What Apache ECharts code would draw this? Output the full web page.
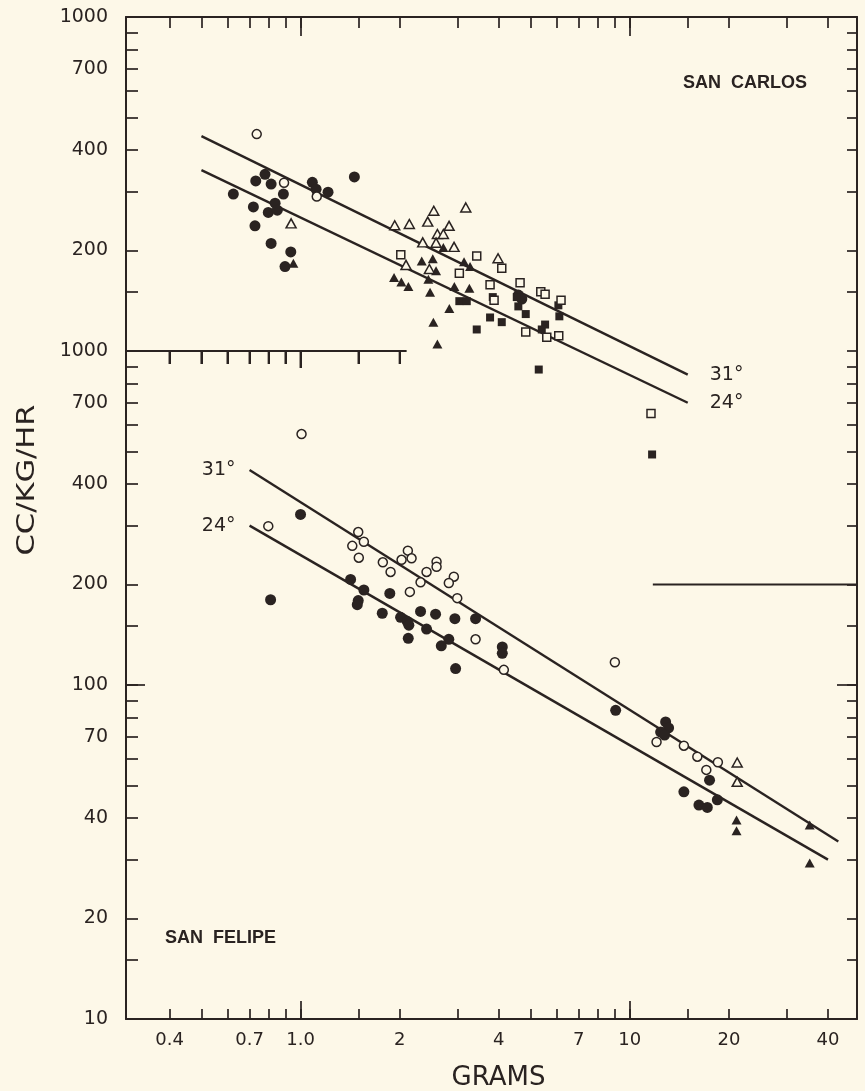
<!DOCTYPE html>
<html><head><meta charset="utf-8">
<script src="https://cdn.jsdelivr.net/npm/echarts@6/dist/echarts.min.js"></script>
<style>html,body{margin:0;padding:0;background:#fdf8e8}#c{width:865px;height:1091px}</style>
</head><body><div id="c"></div>
<script>
// ---- axis ticks / labels ----
var ticksX = [0.4,0.5,0.6,0.7,0.8,0.9,1,1.5,2,3,4,5,6,7,8,9,10,15,20,30,40];
var tallTicksX = [1,10];
var labelsX = [0.4,0.7,1,2,4,7,10,20,40];
var midTicksX = [0.4,0.5,0.6,0.7,0.8,0.9,1.5,2];
var midTallTicksX = [1];
var ticksYLower = [15,20,30,40,50,60,70,80,90,100,150,200,300,400,500,600,700,800,900,1000];
var labelsYLower = [10,20,40,70,100,200,400,700,1000];
var ticksYUpper = [150,200,300,400,500,600,700,800,900];
var labelsYUpper = [200,400,700,1000];
var tallTicksY = [100];

// ---- SAN CARLOS (upper panel) [grams, cc/kg/hr] ----
var scCircleOpen = [[0.736,446],[0.891,319],[1.12,290]];
var scCircleFilled = [[0.625,295],[0.731,323],[0.78,338],[0.814,316],[0.837,277],[0.887,295],[0.719,270],[0.798,260],[0.85,264],[0.727,237],[0.814,210],[0.934,198],[0.897,179],[1.086,320],[1.115,305],[1.212,299],[1.457,332],[4.59,147],[4.70,143]];
var scTriOpen = [[0.936,241],[1.932,238],[2.14,240],[2.434,244],[2.539,263],[2.826,237],[3.176,269],[2.604,224],[2.715,224],[2.35,211.5],[2.58,211],[2.926,205],[3.98,189.5],[2.091,181],[2.462,176]];
var scTriFilled = [[0.951,183],[1.923,166],[2.024,161],[2.126,156],[2.334,186],[2.521,189],[2.58,174],[2.445,164],[2.474,150],[2.715,204],[2.932,156],[3.257,154],[2.831,134],[2.532,122],[2.604,105],[3.138,185],[3.273,179]];
var scSqOpen = [[2.016,194],[3.429,192.5],[4.085,177],[3.036,171],[3.764,158],[4.643,160],[5.367,150.5],[5.531,148],[6.183,142],[4.831,114],[5.596,110],[6.085,111],[3.871,142],[11.6,65]];
var scSqFilled = [[3.036,141],[3.198,141],[3.836,145],[3.764,126],[4.085,122],[3.429,116],[4.537,145],[4.587,136],[4.831,129],[5.531,120],[5.404,116],[6.111,127],[6.069,137],[5.291,88],[11.69,49]];
var scLine31 = [[0.5,440],[15,85]];
var scLine24 = [[0.5,348],[15,70]];

// ---- SAN FELIPE (lower panel) ----
var sfCircleOpen = [[1.007,564],[0.798,299],[1.497,287],[1.557,268.5],[1.436,261],[1.503,240.5],[1.778,233],[1.877,218],[2.027,237],[2.118,252.5],[2.174,239.5],[2.589,234],[2.589,226],[2.414,218],[2.315,203],[2.922,211],[2.821,202],[2.992,182],[2.148,190],[3.401,137],[4.145,111],[9.01,117],[12.06,67.5],[14.6,65.8],[16.04,61],[18.52,58.7],[17.08,55.7]];
var sfCircleFilled = [[1.0,324],[0.811,180],[1.419,207],[1.557,192.5],[1.497,179],[1.487,174],[1.867,188],[1.771,164],[2.013,159.5],[2.11,155],[2.133,151],[2.315,166],[2.571,163],[2.943,158],[3.401,158],[2.414,147],[2.124,138],[2.821,137],[2.676,131],[2.958,112],[4.1,130],[4.1,124.4],[9.06,84],[12.85,77.5],[13.12,74.4],[12.41,72.3],[12.76,70.8],[17.47,51.9],[14.6,47.9],[16.22,43.7],[17.2,43],[18.45,45.3]];
var sfTriOpen = [[21.2,58.6],[21.2,51.3]];
var sfTriFilled = [[21.1,39.4],[21.1,36.6],[35.2,38.1],[35.2,29.3]];
var sfLine31 = [[0.7,440],[43,34]];
var sfLine24 = [[0.7,300],[40,30]];

// ---- partial rules ----
var midRuleLevel = 1000;
var midRule = [[0.295,1000],[2.10,1000]];
var rightRule = [[11.75,200],[49,200]];

var INK = '#2a2321', BG = '#fdf8e8';
var FONT = 'DejaVu Sans';
var X_MIN = 0.295, X_MAX = 49;

function near(a,b){return Math.abs(a-b) < 1e-6*Math.max(1,Math.abs(b));}
function xFmt(v){ if (near(v,1)) return '1.0'; return String(+(+v).toPrecision(3)); }
function yFmt(v){ return String(Math.round(v)); }

function axisBase(type, extra){
  var o = {type:'log', logBase:10, gridIndex:0,
    axisLine:{show:false, onZero:false}, splitLine:{show:false}, minorTick:{show:false},
    axisLabel:{show:false}, axisTick:{show:false}};
  if (type==='x'){ o.min = X_MIN; o.max = X_MAX; }
  for (var k in extra) o[k]=extra[k];
  return o;
}
var lineW = 2;
var solidLine = {show:true, onZero:false, lineStyle:{color:INK, width:lineW}};
var tick = function(vals, len, w){ return {show:true, inside:true, length:len, customValues:vals, lineStyle:{color:INK, width:w||1.7}}; };

function sc(name, data, yIdx, symbol, size, filled){
  return {type:'scatter', name:name, data:data, xAxisIndex:0, yAxisIndex:yIdx,
    symbol:symbol, symbolSize:size, silent:true, animation:false, z: filled?3:4,
    itemStyle: filled ? {color:INK, opacity:1} : {color:BG, borderColor:INK, borderWidth:1.5, opacity:1}};
}
function regLine(name, pts, yIdx, text, labelIdx, pos, dist){
  var data = pts.map(function(p,i){
    var d = {value:p};
    if (i===labelIdx) d.label = {show:true, formatter:text, position:pos, distance:dist, color:INK, fontSize:19, fontFamily:FONT};
    return d;
  });
  return {type:'line', name:name, data:data, xAxisIndex:0, yAxisIndex:yIdx, symbol:'circle', symbolSize:0,
    showSymbol:true, silent:true, animation:false, z:2, lineStyle:{color:INK, width:2.4}, itemStyle:{color:INK}};
}
function rule(name, pts){
  return {type:'line', name:name, data:pts, xAxisIndex:0, yAxisIndex:0, symbol:'none', silent:true, animation:false,
    z:5, lineStyle:{color:INK, width:2}};
}
// short vertical marks hanging from the mid rule, placed on the library's own scales
function ruleTicks(name, xs, len){
  return {type:'scatter', name:name, data:xs.map(function(x){return [x, midRuleLevel];}), xAxisIndex:0, yAxisIndex:0,
    symbol:'rect', symbolSize:[2,len], symbolOffset:[0,len/2], silent:true, animation:false, z:6, clip:false,
    itemStyle:{color:INK, opacity:1}};
}

var option = {
  backgroundColor: BG,
  animation:false,
  grid:[{left:126, right:8, top:17, bottom:72, outerBoundsMode:'none', containLabel:false}],
  xAxis:[
    axisBase('x', {position:'bottom', axisLine:solidLine, axisTick:tick(ticksX,10),
      axisLabel:{show:true, customValues:labelsX, formatter:xFmt, color:INK, fontSize:18, fontFamily:FONT, margin:12},
      name:'GRAMS', nameLocation:'middle', nameGap:46,
      nameTextStyle:{color:INK, fontSize:26, fontFamily:FONT, padding:[0,0,0,14]}}),
    axisBase('x', {position:'bottom', axisTick:tick(tallTicksX,18)}),
    axisBase('x', {position:'top', axisLine:solidLine, axisTick:tick(ticksX,11)}),
    axisBase('x', {position:'top', axisTick:tick(tallTicksX,19)}),
    axisBase('x', {position:'top', offset:-334, axisTick:tick(midTicksX,13,2)}),
    axisBase('x', {position:'top', offset:-334, axisTick:tick(midTallTicksX,17,2)})
  ],
  yAxis:[
    axisBase('y', {min:10, max:10000, position:'left', axisLine:solidLine, axisTick:tick(ticksYLower,12),
      axisLabel:{show:true, customValues:labelsYLower, formatter:yFmt, color:INK, fontSize:19, fontFamily:FONT, margin:18}}),
    axisBase('y', {min:1, max:1000, position:'left', axisTick:tick(ticksYUpper,12),
      axisLabel:{show:true, customValues:labelsYUpper, formatter:yFmt, color:INK, fontSize:19, fontFamily:FONT, margin:18}}),
    axisBase('y', {min:10, max:10000, position:'right', axisLine:solidLine, axisTick:tick(ticksYLower,10)}),
    axisBase('y', {min:1, max:1000, position:'right', axisTick:tick(ticksYUpper,10)}),
    axisBase('y', {min:10, max:10000, position:'left', axisTick:tick(tallTicksY,19)}),
    axisBase('y', {min:10, max:10000, position:'right', axisTick:tick(tallTicksY,20)})
  ],
  graphic:[
    {type:'text', x:27, y:480, rotation:Math.PI/2, scaleX:1.22, style:{text:'CC/KG/HR', fill:INK, font:'25px "DejaVu Sans"', textAlign:'center', textVerticalAlign:'middle'}},
    {type:'text', x:683, y:83, style:{text:'SAN  CARLOS', fill:INK, font:'bold 18px "Liberation Sans"', textAlign:'left', textVerticalAlign:'middle'}},
    {type:'text', x:165, y:938, style:{text:'SAN  FELIPE', fill:INK, font:'bold 18px "Liberation Sans"', textAlign:'left', textVerticalAlign:'middle'}}
  ],
  series:[
    regLine('San Carlos 31°', scLine31, 1, '31°', 1, 'right', 22),
    regLine('San Carlos 24°', scLine24, 1, '24°', 1, 'right', 22),
    regLine('San Felipe 31°', sfLine31, 0, '31°', 0, 'left', 14),
    regLine('San Felipe 24°', sfLine24, 0, '24°', 0, 'left', 14),
    rule('mid rule', midRule),
    rule('right rule', rightRule),
    ruleTicks('mid rule ticks', midTicksX, 13),
    ruleTicks('mid rule tall tick', midTallTicksX, 17),
    sc('SC circle 31°', scCircleOpen, 1, 'circle', 9, false),
    sc('SC circle 24°', scCircleFilled, 1, 'circle', 11, true),
    sc('SC triangle 31°', scTriOpen, 1, 'triangle', [10,9], false),
    sc('SC triangle 24°', scTriFilled, 1, 'triangle', [10,9], true),
    sc('SC square 31°', scSqOpen, 1, 'rect', 8, false),
    sc('SC square 24°', scSqFilled, 1, 'rect', 8, true),
    sc('SF circle 31°', sfCircleOpen, 0, 'circle', 9, false),
    sc('SF circle 24°', sfCircleFilled, 0, 'circle', 11, true),
    sc('SF triangle 31°', sfTriOpen, 0, 'triangle', [10,9], false),
    sc('SF triangle 24°', sfTriFilled, 0, 'triangle', [10,9], true)
  ]
};
var chart = echarts.init(document.getElementById('c'), null, {renderer:'canvas'});
chart.setOption(option);
</script></body></html>
